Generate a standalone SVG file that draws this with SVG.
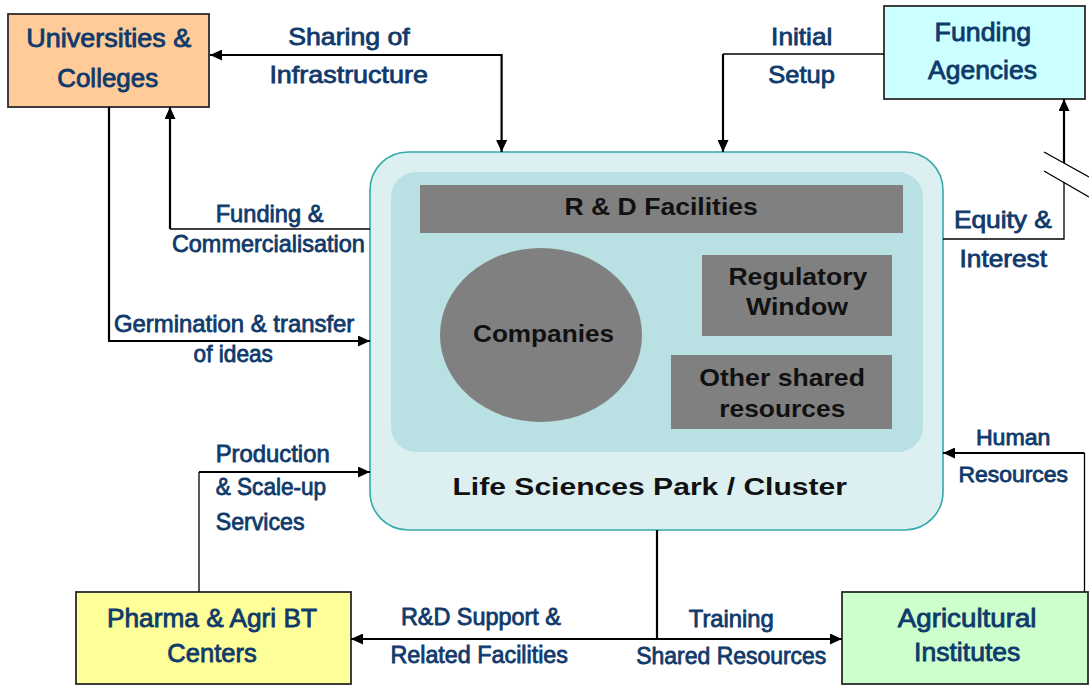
<svg xmlns="http://www.w3.org/2000/svg" width="1089" height="685" viewBox="0 0 1089 685">
<style>
.node{stroke:#2b2b2b;stroke-width:1.8}
.lbl{font-family:"Liberation Sans",Arial,sans-serif;font-weight:normal;fill:#0f3a6b;stroke:#0f3a6b;stroke-width:0.8}
.nl{font-size:25px}
.el{font-size:24px}
.in{font-family:"Liberation Sans",Arial,sans-serif;font-weight:bold;fill:#111;font-size:24px}
.c{fill:none;stroke:#000;stroke-width:2.2}
.t{fill:none;stroke:#000;stroke-width:1.3}
</style>
<defs>
<marker id="ah" markerUnits="userSpaceOnUse" markerWidth="12" markerHeight="11" viewBox="0 0 12 11" refX="12" refY="5.5" orient="auto-start-reverse">
<path d="M0,0 L12,5.5 L0,11 z" fill="#000"/>
</marker>
</defs>
<rect width="1089" height="685" fill="#fff"/>

<g id="park">
<rect x="370" y="152" width="573" height="378" rx="38" fill="#dcf0f2" stroke="#34aaa9" stroke-width="1.6"/>
<rect x="391" y="172" width="532" height="280" rx="25" fill="#b9e0e3"/>
<text class="in" x="452.5" y="495" textLength="394.5" lengthAdjust="spacingAndGlyphs">Life Sciences Park / Cluster</text>
</g>
<g id="rd">
<rect x="420" y="185" width="483" height="48" fill="#808080"/>
<text class="in" x="564.5" y="215" textLength="193.3" lengthAdjust="spacingAndGlyphs">R &amp; D Facilities</text>
</g>
<g id="companies">
<ellipse cx="541" cy="335" rx="101" ry="87" fill="#808080"/>
<text class="in" x="473" y="342" textLength="141" lengthAdjust="spacingAndGlyphs">Companies</text>
</g>
<g id="regulatory">
<rect x="702" y="255" width="190" height="81" fill="#808080"/>
<text class="in" x="728.4" y="285" textLength="139" lengthAdjust="spacingAndGlyphs">Regulatory</text>
<text class="in" x="745.9" y="315" textLength="102.2" lengthAdjust="spacingAndGlyphs">Window</text>
</g>
<g id="other">
<rect x="671" y="355" width="221" height="74" fill="#808080"/>
<text class="in" x="699.3" y="386" textLength="165.6" lengthAdjust="spacingAndGlyphs">Other shared</text>
<text class="in" x="719.3" y="417" textLength="126" lengthAdjust="spacingAndGlyphs">resources</text>
</g>

<g id="universities">
<rect class="node" x="8" y="14" width="201" height="93" fill="#ffcc99"/>
<text class="lbl nl" x="26.3" y="47" textLength="165" lengthAdjust="spacingAndGlyphs">Universities &amp;</text>
<text class="lbl nl" x="57.2" y="87" textLength="101" lengthAdjust="spacingAndGlyphs">Colleges</text>
</g>
<g id="funding">
<rect class="node" x="884" y="6" width="201" height="93" fill="#ccffff"/>
<text class="lbl nl" x="934.6" y="41" textLength="96.6" lengthAdjust="spacingAndGlyphs">Funding</text>
<text class="lbl nl" x="928" y="79" textLength="109" lengthAdjust="spacingAndGlyphs">Agencies</text>
</g>
<g id="pharma">
<rect class="node" x="76" y="592" width="275" height="92" fill="#ffff99"/>
<text class="lbl nl" x="107" y="627" textLength="210" lengthAdjust="spacingAndGlyphs">Pharma &amp; Agri BT</text>
<text class="lbl nl" x="167.3" y="662" textLength="89.4" lengthAdjust="spacingAndGlyphs">Centers</text>
</g>
<g id="agri">
<rect class="node" x="842" y="592" width="246" height="92" fill="#ccffcc"/>
<text class="lbl nl" x="897.8" y="627" textLength="138.7" lengthAdjust="spacingAndGlyphs">Agricultural</text>
<text class="lbl nl" x="914" y="661" textLength="106.4" lengthAdjust="spacingAndGlyphs">Institutes</text>
</g>

<g id="connectors">
<path class="c" d="M210,55 H501.6 V152" marker-start="url(#ah)" marker-end="url(#ah)"/>
<path class="t" d="M884,54 H723"/>
<path class="c" d="M723,54 V152" marker-end="url(#ah)"/>
<path class="t" d="M370,229 H170"/>
<path class="c" d="M170,229 V107" marker-end="url(#ah)"/>
<path class="c" d="M109,107 V341 H370" marker-end="url(#ah)"/>
<path class="t" d="M199,592 V472"/>
<path class="c" d="M199,472 H370" marker-end="url(#ah)"/>
<path class="t" d="M1084.5,592 V453"/>
<path class="c" style="stroke-width:1.8" d="M1084.5,453 H943" marker-end="url(#ah)"/>
<path class="t" d="M943,239 H1064 V182"/>
<path class="c" d="M1064,163 V99" marker-end="url(#ah)"/>
<path class="t" d="M1044,152 L1089,177 M1044,171 L1089,197"/>
<path class="c" d="M657,530 V639"/>
<path class="c" d="M657,639 H351" marker-end="url(#ah)"/>
<path class="c" d="M657,639 H842" marker-end="url(#ah)"/>
</g>

<g id="edge-labels">
<text class="lbl el" x="288.3" y="45" textLength="121.4" lengthAdjust="spacingAndGlyphs">Sharing of</text>
<text class="lbl el" x="269.4" y="83" textLength="158.5" lengthAdjust="spacingAndGlyphs">Infrastructure</text>
<text class="lbl el" x="771.1" y="45" textLength="61.3" lengthAdjust="spacingAndGlyphs">Initial</text>
<text class="lbl el" x="768.3" y="83" textLength="66.5" lengthAdjust="spacingAndGlyphs">Setup</text>
<text class="lbl el" x="215.7" y="222" textLength="107.7" lengthAdjust="spacingAndGlyphs">Funding &amp;</text>
<text class="lbl el" x="171.9" y="252" textLength="192.9" lengthAdjust="spacingAndGlyphs">Commercialisation</text>
<text class="lbl el" x="953.9" y="228" textLength="98" lengthAdjust="spacingAndGlyphs">Equity &amp;</text>
<text class="lbl el" x="959.5" y="267" textLength="87.5" lengthAdjust="spacingAndGlyphs">Interest</text>
<text class="lbl el" x="114" y="332" textLength="240.3" lengthAdjust="spacingAndGlyphs">Germination &amp; transfer</text>
<text class="lbl el" x="193.6" y="362" textLength="79.3" lengthAdjust="spacingAndGlyphs">of ideas</text>
<text class="lbl el" x="215.7" y="462" textLength="114" lengthAdjust="spacingAndGlyphs">Production</text>
<text class="lbl el" x="215.7" y="495" textLength="110.5" lengthAdjust="spacingAndGlyphs">&amp; Scale-up</text>
<text class="lbl el" x="215.7" y="530" textLength="88.8" lengthAdjust="spacingAndGlyphs">Services</text>
<text class="lbl el" style="font-size:22px" x="975.9" y="445" textLength="74.6" lengthAdjust="spacingAndGlyphs">Human</text>
<text class="lbl el" style="font-size:22px" x="958.4" y="482" textLength="109.6" lengthAdjust="spacingAndGlyphs">Resources</text>
<text class="lbl el" style="font-size:23px" x="400.9" y="625" textLength="160" lengthAdjust="spacingAndGlyphs">R&amp;D Support &amp;</text>
<text class="lbl el" style="font-size:23px" x="390.4" y="663" textLength="177.6" lengthAdjust="spacingAndGlyphs">Related Facilities</text>
<text class="lbl el" x="688.8" y="627" textLength="85" lengthAdjust="spacingAndGlyphs">Training</text>
<text class="lbl el" x="636.3" y="664" textLength="190" lengthAdjust="spacingAndGlyphs">Shared Resources</text>
</g>
</svg>
